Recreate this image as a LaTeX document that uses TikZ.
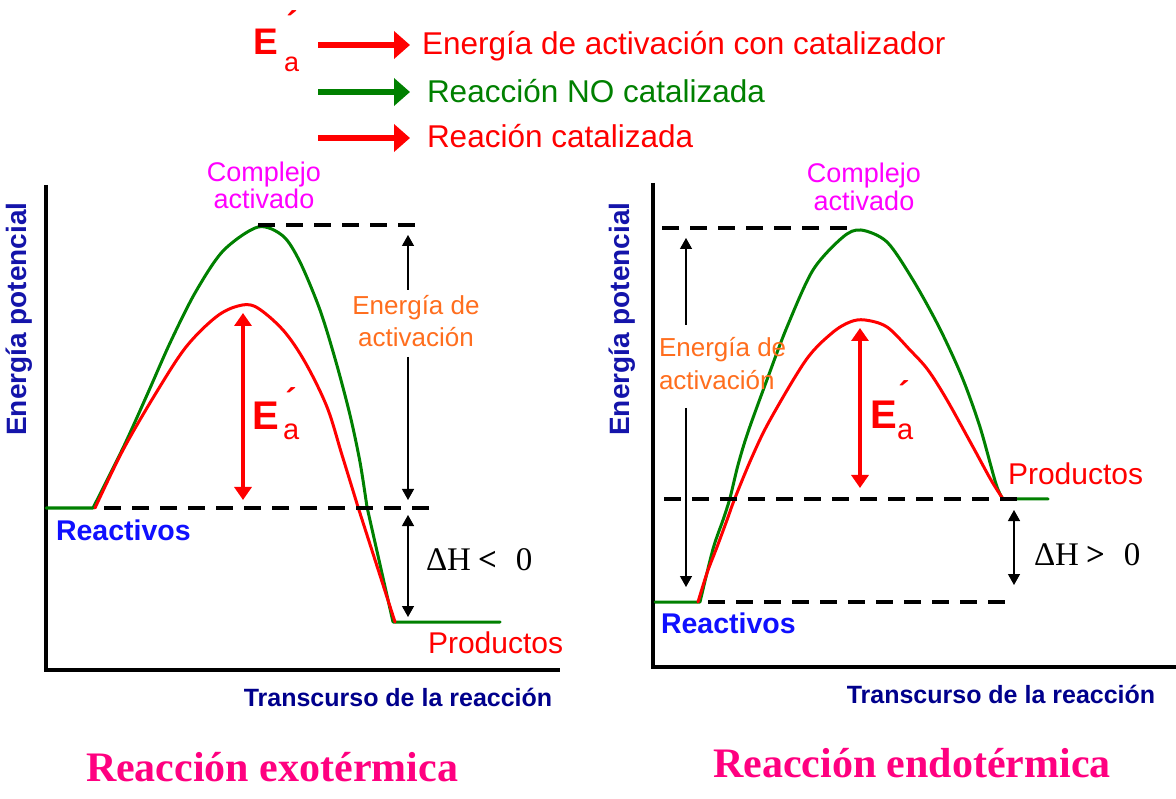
\documentclass[tikz,border=0pt]{standalone}
\usepackage{fontspec}
\setmainfont{Liberation Sans}
\newfontfamily\serifA{Liberation Serif}
\usetikzlibrary{arrows.meta}
\definecolor{rd}{RGB}{255,0,0}
\definecolor{gr}{RGB}{0,128,0}
\definecolor{orng}{RGB}{255,110,30}
\definecolor{mag}{RGB}{255,0,255}
\definecolor{pnk}{RGB}{255,0,128}
\definecolor{blu}{RGB}{16,16,255}
\definecolor{enpot}{RGB}{20,20,170}
\definecolor{nvy}{RGB}{0,0,140}
\newcommand{\fsz}[1]{\fontsize{#1}{#1}\selectfont}
\begin{document}
\begin{tikzpicture}[x=1pt,y=-1pt,
  txt/.style={inner sep=0pt, outer sep=0pt},
  grc/.style={draw=gr, line width=3pt, line join=round, line cap=round},
  rdc/.style={draw=rd, line width=3pt, line join=round, line cap=round},
  dashln/.style={draw=black, line width=3.5pt, dash pattern=on 17pt off 11pt},
  axisln/.style={draw=black, line width=3.5pt},
  thinarr/.style={draw=black, line width=1.3pt, -{Triangle[length=11pt,width=12pt]}},
  redarr/.style={draw=rd, line width=4pt, {Triangle[length=13pt,width=17pt]}-{Triangle[length=13pt,width=17pt]}},
  legarr/.style={line width=6pt, -{Triangle[length=16pt,width=27pt]}},
  ealbl/.style={txt, text=orng, font=\fsz{26}},
  cplx/.style={txt, text=mag, font=\fsz{27}},
  reac/.style={txt, text=blu, font=\fsz{28.5}\bfseries},
  prod/.style={txt, text=rd, font=\fsz{30}},
  dh/.style={txt, font=\serifA\fsz{33}},
  trans/.style={txt, text=nvy, font=\fsz{25}\bfseries},
  epot/.style={txt, text=enpot, font=\fsz{28}\bfseries, rotate=90},
  title/.style={txt, text=pnk, font=\serifA\fsz{42}\bfseries},
  bigE/.style={txt, text=rd, font=\fsz{37}\bfseries},
  bigEd/.style={txt, text=rd, font=\fsz{40}\bfseries},
  subA/.style={txt, text=rd, font=\fsz{27}},
  subAd/.style={txt, text=rd, font=\fsz{29}},
  primeA/.style={txt, text=rd, font=\fsz{34}\bfseries},
  legtxt/.style={txt, font=\fsz{31.5}}
]
\useasboundingbox (0,0) rectangle (1176,799);
\fill[white] (0,0) rectangle (1176,799);

% ---------------- Legend ----------------
\node[bigE, anchor=base west] (legE) at (253,55) {E};
\node[subA, anchor=base west] (lega) at (284,72) {a};
\node[primeA, anchor=center] (legp) at (292,23) {´};
\coordinate (l1a) at (318,45); \coordinate (l1b) at (410,45);
\coordinate (l2a) at (318,92); \coordinate (l2b) at (410,92);
\coordinate (l3a) at (318,138); \coordinate (l3b) at (410,138);
\draw[legarr, rd] (l1a) -- (l1b);
\draw[legarr, gr] (l2a) -- (l2b);
\draw[legarr, rd] (l3a) -- (l3b);
\node[legtxt, text=rd, anchor=base west] (lt1) at (422,55) {Energía de activación con catalizador};
\node[legtxt, text=gr, anchor=base west] (lt2) at (427,103) {Reacción NO catalizada};
\node[legtxt, text=rd, anchor=base west] (lt3) at (427,148) {Reación catalizada};

% ---------------- Left diagram (exothermic) ----------------
\draw[axisln] (46,185) -- (46,670) -- (560,670);
\node[epot] (lyl) at (19,319) {Energía potencial};

\draw[grc] (46,508) -- (93,508) -- plot[smooth, tension=0.5] coordinates {(93,508) (123,448) (147,395) (170,343) (195,293) (223,251) (258,227) (283,236) (300,262) (320,310) (336,362) (350,415) (360,462) (367,507)} -- (393,622) -- (500,622);
\draw[rdc] plot[smooth, tension=0.55] coordinates {(95,508) (123,450) (156,393) (186,347) (216,317) (238,306) (256,307) (283,330) (305,362) (327,407) (342,455) (358,507)} -- (395,622);

\draw[dashln] (258,225) -- (420,225);
\draw[dashln] (104,508) -- (438,508);

\coordinate (lta) at (408,290); \coordinate (ltb) at (408,235);
\coordinate (lba) at (408,357); \coordinate (lbb) at (408,500);
\draw[thinarr] (lta) -- (ltb);
\draw[thinarr] (lba) -- (lbb);
\coordinate (lha) at (408,515); \coordinate (lhb) at (408,617);
\draw[thinarr, {Triangle[length=11pt,width=12pt]}-{Triangle[length=11pt,width=12pt]}] (lha) -- (lhb);
\coordinate (lra) at (243,313); \coordinate (lrb) at (243,500);
\draw[redarr] (lra) -- (lrb);

\node[cplx, anchor=base] (lc1) at (264,182) {Complejo};
\node[cplx, anchor=base] (lc2) at (264,209) {activado};
\node[ealbl, anchor=base] (le1) at (416,315) {Energía de};
\node[ealbl, anchor=base] (le2) at (416,347) {activación};
\node[bigEd, anchor=base west] (lE) at (252,430) {E};
\node[subAd, anchor=base west] (la) at (283,440) {a};
\node[primeA, anchor=center] (lp) at (291,400) {´};
\node[reac, anchor=base west] (lreac) at (56,540) {Reactivos};
\node[prod, anchor=base west] (lprod) at (428,653) {Productos};
\node[dh, anchor=base west] (ldh) at (426,570) {ΔH\hspace{7pt}{\bfseries <}\hspace{19pt}0};
\node[trans, anchor=base] (ltr) at (398,706) {Transcurso de la reacción};
\node[title, anchor=base] (lti) at (272,781) {Reacción exotérmica};

% ---------------- Right diagram (endothermic) ----------------
\draw[axisln] (653,183) -- (653,667) -- (1176,667);
\node[epot] (ryl) at (622,319) {Energía potencial};

\draw[grc] (655,602) -- (700,602) -- plot[smooth, tension=0.5] coordinates {(700,602) (713,549) (723,520) (730,498) (738,465) (748,432) (768,377) (787,327) (813,270) (843,237) (861,230) (887,242) (913,280) (939,327) (962,377) (980,427) (996,484) (1003,499)} -- (1048,499);
\draw[rdc] plot[smooth, tension=0.55] coordinates {(698,602) (707,573) (717,547) (727,520) (735,498) (752,457) (770,420) (806,360) (832,333) (850,322) (865,320) (887,327) (910,350) (928,370) (947,400) (973,447) (991,480) (1003,499)};

\draw[dashln] (662,228) -- (852,228);
\draw[dashln] (664,499) -- (1027,499);
\draw[dashln] (708,602) -- (1014,602);

\coordinate (rta) at (686,325); \coordinate (rtb) at (686,238);
\coordinate (rba) at (686,408); \coordinate (rbb) at (686,587);
\draw[thinarr] (rta) -- (rtb);
\draw[thinarr] (rba) -- (rbb);
\coordinate (rha) at (1014,510); \coordinate (rhb) at (1014,585);
\draw[thinarr, {Triangle[length=11pt,width=12pt]}-{Triangle[length=11pt,width=12pt]}] (rha) -- (rhb);
\coordinate (rra) at (860,328); \coordinate (rrb) at (860,488);
\draw[redarr] (rra) -- (rrb);

\node[cplx, anchor=base] (rc1) at (864,183) {Complejo};
\node[cplx, anchor=base] (rc2) at (864,211) {activado};
\node[ealbl, anchor=base west] (re1) at (659,357) {Energía de};
\node[ealbl, anchor=base west] (re2) at (659,390) {activación};
\node[bigEd, anchor=base west] (rE) at (870,429) {E};
\node[subAd, anchor=base west] (ra) at (897,440) {a};
\node[primeA, anchor=center] (rp) at (904,393) {´};
\node[reac, anchor=base west] (rreac) at (661,633) {Reactivos};
\node[prod, anchor=base west] (rprod) at (1008,485) {Productos};
\node[dh, anchor=base west] (rdh) at (1034,565) {ΔH\hspace{7pt}{\bfseries >}\hspace{19pt}0};
\node[trans, anchor=base] (rtr) at (1001,703) {Transcurso de la reacción};
\node[title, anchor=base] (rti) at (912,777) {Reacción endotérmica};
\end{tikzpicture}
\end{document}
